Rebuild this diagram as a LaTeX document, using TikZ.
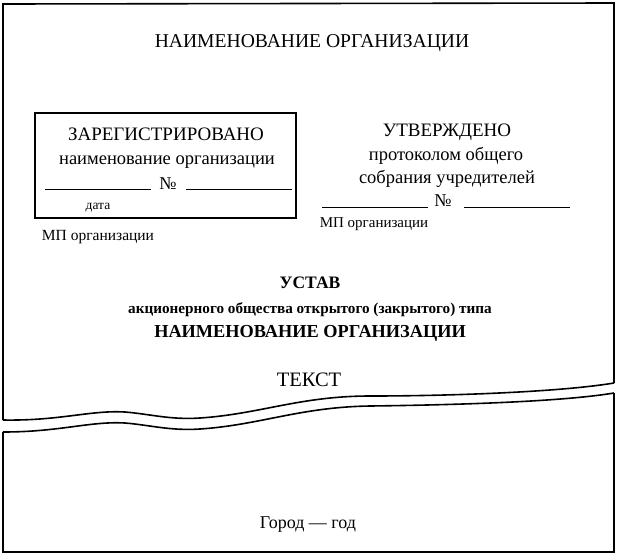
\documentclass[tikz,border=0pt]{standalone}
\usepackage{fontspec}
\setmainfont{Liberation Serif}
\begin{document}
\begin{tikzpicture}[x=1pt,y=-1pt,line width=1.6pt,
  t/.style={inner sep=0pt,anchor=base}]
\useasboundingbox (0,0) rectangle (620,555);
% upper sheet
\draw (3,420) -- (3,4) -- (614,3) -- (614,383);
\draw (3,420) .. controls (60,421) and (90,410) .. (125,412)
  .. controls (150,414) and (170,420) .. (200,418)
  .. controls (260,414) and (300,396) .. (370,396)
  .. controls (450,396) and (560,392) .. (614,383);
% lower sheet
\draw (3,432) .. controls (60,432) and (90,421) .. (125,423)
  .. controls (150,425) and (170,431) .. (200,429)
  .. controls (260,425) and (300,407) .. (370,406)
  .. controls (450,405) and (560,402) .. (614,393);
\draw (3,432) -- (3,552) -- (614,552) -- (614,393);
\node[t,font=\fontsize{19.6}{20}\selectfont] (title) at (312,47) {НАИМЕНОВАНИЕ ОРГАНИЗАЦИИ};
% left stamp
\draw (35,113) rectangle (296,218);
\node[t,font=\fontsize{19}{20}\selectfont] (reg) at (166,140) {ЗАРЕГИСТРИРОВАНО};
\node[t,font=\fontsize{18.5}{19}\selectfont] (nm) at (167,164) {наименование организации};
\node[t,font=\fontsize{18}{18}\selectfont] (no1) at (168,189) {№};
\draw[line width=0.8pt] (45,189) -- (151,189) (186,189) -- (292,189);
\node[t,font=\fontsize{13.5}{14}\selectfont] (d) at (98,209) {дата};
\node[t,font=\fontsize{15.5}{16}\selectfont] (mp1) at (98,240) {МП организации};
% right
\node[t,font=\fontsize{19}{20}\selectfont] (ut) at (447,136) {УТВЕРЖДЕНО};
\node[t,font=\fontsize{18.5}{19}\selectfont] (pr) at (446,160) {протоколом общего};
\node[t,font=\fontsize{18.5}{19}\selectfont] (sob) at (447,183) {собрания учредителей};
\node[t,font=\fontsize{18}{18}\selectfont] (no2) at (443,206) {№};
\draw[line width=0.8pt] (322,207) -- (428,207) (464,207) -- (570,207);
\node[t,font=\fontsize{15}{16}\selectfont] (mp2) at (374,227) {МП организации};
% center
\node[t,font=\bfseries\fontsize{17.5}{18}\selectfont] (us) at (310,288) {УСТАВ};
\node[t,font=\bfseries\fontsize{15.2}{16}\selectfont] (ak) at (310,313) {акционерного общества открытого (закрытого) типа};
\node[t,font=\bfseries\fontsize{18.3}{19}\selectfont] (nm2) at (310,337) {НАИМЕНОВАНИЕ ОРГАНИЗАЦИИ};
\node[t,font=\fontsize{20.5}{21}\selectfont] (tx) at (309,386) {ТЕКСТ};
\node[t,font=\fontsize{18}{19}\selectfont] (gg) at (308,528) {Город — год};
\end{tikzpicture}
\end{document}
